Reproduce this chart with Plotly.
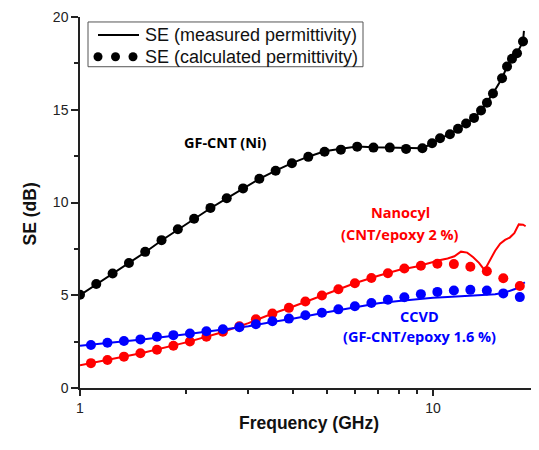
import plotly.graph_objects as go

# GF-CNT (Ni): calculated permittivity (dots)
ni_freq = [1.000, 1.112, 1.237, 1.376, 1.530, 1.702, 1.893, 2.105, 2.342, 2.604,
           2.897, 3.222, 3.583, 3.985, 4.433, 4.930, 5.484, 6.099, 6.783, 7.544,
           8.391, 9.332, 9.94, 10.47, 11.17, 11.77, 12.41, 13.07, 13.68, 14.22,
           14.79, 15.69, 16.21, 16.74, 17.30, 17.99]
ni_calc = [5.03, 5.61, 6.17, 6.74, 7.34, 7.97, 8.56, 9.12, 9.71, 10.23,
           10.76, 11.28, 11.71, 12.12, 12.46, 12.74, 12.85, 13.01, 12.96, 12.96,
           12.89, 12.92, 13.19, 13.46, 13.68, 13.97, 14.26, 14.56, 14.96, 15.38,
           15.88, 16.70, 17.33, 17.75, 18.05, 18.68]
# GF-CNT (Ni): measured permittivity (line)
ni_meas_freq = ni_freq + [18.10]
ni_meas = [5.00, 5.58, 6.15, 6.72, 7.32, 7.95, 8.54, 9.10, 9.69, 10.22,
           10.75, 11.27, 11.72, 12.12, 12.47, 12.76, 12.90, 13.02, 12.98, 12.96,
           12.91, 12.93, 13.18, 13.45, 13.68, 13.96, 14.25, 14.55, 14.95, 15.38,
           15.88, 16.70, 17.33, 17.75, 18.05, 18.68, 19.25]

# Nanocyl / CCVD: calculated permittivity (dots)
ep_freq = [1.074, 1.196, 1.332, 1.483, 1.652, 1.839, 2.048, 2.281, 2.540, 2.829,
           3.150, 3.508, 3.907, 4.350, 4.845, 5.395, 6.008, 6.691, 7.451, 8.297,
           9.240, 10.29, 11.46, 12.76, 14.21, 15.82, 17.62]
nano_calc = [1.34, 1.51, 1.69, 1.87, 2.06, 2.28, 2.51, 2.76, 3.03, 3.33,
             3.70, 4.01, 4.32, 4.66, 4.99, 5.32, 5.65, 5.93, 6.19, 6.44,
             6.59, 6.70, 6.68, 6.54, 6.29, 5.92, 5.50]
ccvd_calc = [2.32, 2.44, 2.53, 2.62, 2.76, 2.85, 2.94, 3.06, 3.17, 3.28,
             3.44, 3.60, 3.74, 3.92, 4.06, 4.24, 4.41, 4.58, 4.76, 4.89,
             5.06, 5.18, 5.26, 5.29, 5.26, 5.10, 4.90]

# Nanocyl: measured permittivity (line)
nano_meas_freq = [1.0, 1.2, 1.5, 2.0, 2.5, 3.0, 3.5, 4.0, 5.0, 6.0, 7.0, 8.0, 9.0,
                  10.0, 10.5, 11.0, 11.5, 12.0, 12.5, 13.0, 13.5, 14.0, 14.5,
                  15.0, 15.5, 16.0, 16.5, 17.0, 17.5, 18.0, 18.3]
nano_meas = [1.22, 1.51, 1.89, 2.46, 2.98, 3.50, 4.00, 4.38, 5.09, 5.65, 6.05, 6.36, 6.55,
             6.80, 6.90, 6.98, 7.10, 7.35, 7.30, 7.05, 6.75, 6.35, 6.90,
             7.40, 7.78, 7.98, 8.11, 8.35, 8.82, 8.80, 8.72]

# CCVD: measured permittivity (line)
ccvd_meas_freq = [1.0, 1.2, 1.5, 2.0, 2.5, 3.0, 3.5, 4.0, 5.0, 6.0, 7.0, 8.0, 9.0,
                  10.0, 11.0, 12.0, 13.0, 14.0, 15.0, 16.0, 17.0, 17.5, 18.2]
ccvd_meas = [2.28, 2.42, 2.61, 2.90, 3.13, 3.33, 3.56, 3.73, 4.08, 4.36, 4.57, 4.69, 4.79,
             4.86, 4.91, 4.96, 5.00, 5.02, 5.06, 5.15, 5.32, 5.45, 5.70]

BLACK, RED, BLUE = "#000000", "#ff0000", "#0000ff"

fig = go.Figure()

for fx, fy, col in [(ni_meas_freq, ni_meas, BLACK),
                    (nano_meas_freq, nano_meas, RED),
                    (ccvd_meas_freq, ccvd_meas, BLUE)]:
    fig.add_trace(go.Scatter(x=fx, y=fy, mode="lines",
                             line=dict(color=col, width=2), showlegend=False))

for fx, fy, col in [(ni_freq, ni_calc, BLACK),
                    (ep_freq, nano_calc, RED),
                    (ep_freq, ccvd_calc, BLUE)]:
    fig.add_trace(go.Scatter(x=fx, y=fy, mode="markers",
                             marker=dict(color=col, size=10, line=dict(width=0)),
                             showlegend=False))

# plot area in window pixels: left 80, top 15, width 458, height 373
# (page body adds an 8 px offset, so the figure itself is 8 px smaller)
W, H, L, T = 458.0, 373.0, 80.0, 15.0


def px(x):
    return (x - L) / W


def py(y):
    return (T + H - y) / H


shapes = [
    # legend frame
    dict(type="rect", xref="paper", yref="paper", x0=px(88), x1=px(363),
         y0=py(65), y1=py(20), line=dict(color="#555555", width=1), fillcolor="white"),
    dict(type="line", xref="paper", yref="paper", x0=px(98), x1=px(139),
         y0=py(33), y1=py(33), line=dict(color=BLACK, width=2)),
]
for cx in [98, 115.5, 133]:
    shapes.append(dict(type="circle", xref="paper", yref="paper",
                       xsizemode="pixel", ysizemode="pixel",
                       xanchor=px(cx), yanchor=py(55),
                       x0=-4.5, x1=4.5, y0=-4.5, y1=4.5,
                       fillcolor=BLACK, line=dict(width=0)))

lab_font = dict(family="Open Sans", size=14.5)
legend_font = dict(family="Liberation Sans, Arial", size=18, color="#111111")
title_font = dict(family="Liberation Sans, Arial", size=17.5, color="#111111")

annotations = [
    dict(text="SE (measured permittivity)", xref="paper", yref="paper",
         x=px(143), y=py(33), xanchor="left", yanchor="middle",
         showarrow=False, font=legend_font),
    dict(text="SE (calculated permittivity)", xref="paper", yref="paper",
         x=px(143), y=py(55), xanchor="left", yanchor="middle",
         showarrow=False, font=legend_font),
    dict(text="<b>GF-CNT (Ni)</b>", x=0.412, y=13.22, showarrow=False,
         font=dict(lab_font, color=BLACK)),
    dict(text="<b>Nanocyl</b>", x=0.908, y=9.44, showarrow=False,
         font=dict(lab_font, color=RED)),
    dict(text="<b>(CNT/epoxy 2 %)</b>", x=0.907, y=8.29, showarrow=False,
         font=dict(lab_font, color=RED)),
    dict(text="<b>CCVD</b>", x=0.963, y=3.83, showarrow=False,
         font=dict(lab_font, color=BLUE)),
    dict(text="<b>(GF-CNT/epoxy 1.6 %)</b>", x=0.963, y=2.76, showarrow=False,
         font=dict(lab_font, color=BLUE)),
    dict(text="<b>SE (dB)</b>", xref="paper", yref="paper",
         x=px(18), y=py(212.5), textangle=-90, showarrow=False, font=title_font),
    dict(text="<b>Frequency (GHz)</b>", xref="paper", yref="paper",
         x=0.5, y=py(435), showarrow=False, font=title_font),
]

axis_common = dict(
    showline=True, linecolor="#222222", linewidth=1.5, showgrid=False,
    zeroline=False, ticks="outside", tickcolor="#222222", tickwidth=1.5,
    tickfont=dict(family="Liberation Sans, Arial", size=14, color="#222222"),
    ticklabeloverflow="allow",
)

fig.update_layout(
    width=531, height=442,
    margin=dict(l=72, r=1, t=7, b=62),
    paper_bgcolor="white", plot_bgcolor="white",
    showlegend=False,
    xaxis=dict(axis_common, type="log", range=[0, 1.2975],
               tickvals=[1, 10], ticktext=["1", "10"], ticklen=6,
               minor=dict(ticks="outside", ticklen=4, tickcolor="#222222",
                          tickvals=[2, 3, 4, 5, 6, 7, 8, 9])),
    yaxis=dict(axis_common, range=[0, 20], tickvals=[0, 5, 10, 15, 20], ticklen=7,
               minor=dict(ticks="outside", ticklen=4, tickcolor="#222222",
                          tickvals=[2.5, 7.5, 12.5, 17.5])),
    shapes=shapes,
    annotations=annotations,
)

fig.write_html("out.html")
